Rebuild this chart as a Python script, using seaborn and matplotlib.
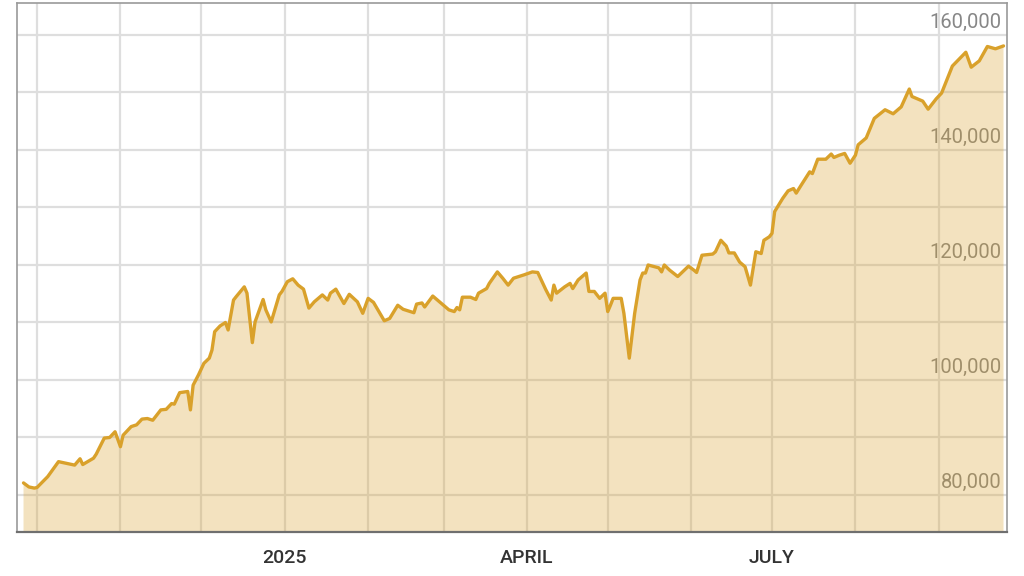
import matplotlib
matplotlib.use("Agg")
import pandas as pd
import matplotlib.pyplot as plt
import seaborn as sns

# Data
dates = [
    "2024-09-26", "2024-09-28", "2024-09-30", "2024-10-01", "2024-10-05", "2024-10-09",
    "2024-10-11", "2024-10-15", "2024-10-17", "2024-10-18", "2024-10-22", "2024-10-23",
    "2024-10-26", "2024-10-28", "2024-10-30", "2024-11-01", "2024-11-02", "2024-11-05",
    "2024-11-07", "2024-11-09", "2024-11-11", "2024-11-13", "2024-11-16", "2024-11-18",
    "2024-11-20", "2024-11-21", "2024-11-23", "2024-11-26", "2024-11-27", "2024-11-28",
    "2024-11-30", "2024-12-02", "2024-12-04", "2024-12-05", "2024-12-06", "2024-12-08",
    "2024-12-10", "2024-12-11", "2024-12-13", "2024-12-14", "2024-12-17", "2024-12-18",
    "2024-12-20", "2024-12-21", "2024-12-24", "2024-12-25", "2024-12-27", "2024-12-30",
    "2024-12-31", "2025-01-02", "2025-01-04", "2025-01-06", "2025-01-08", "2025-01-10",
    "2025-01-12", "2025-01-15", "2025-01-17", "2025-01-18", "2025-01-20", "2025-01-23",
    "2025-01-25", "2025-01-28", "2025-01-30", "2025-02-01", "2025-02-03", "2025-02-07",
    "2025-02-09", "2025-02-12", "2025-02-14", "2025-02-18", "2025-02-19", "2025-02-21",
    "2025-02-22", "2025-02-25", "2025-02-28", "2025-03-03", "2025-03-05", "2025-03-06",
    "2025-03-07", "2025-03-08", "2025-03-11", "2025-03-13", "2025-03-14", "2025-03-17",
    "2025-03-18", "2025-03-21", "2025-03-23", "2025-03-25", "2025-03-27", "2025-03-31",
    "2025-04-03", "2025-04-05", "2025-04-08", "2025-04-10", "2025-04-11", "2025-04-12",
    "2025-04-15", "2025-04-17", "2025-04-18", "2025-04-20", "2025-04-23", "2025-04-24",
    "2025-04-26", "2025-04-28", "2025-04-30", "2025-05-01", "2025-05-02", "2025-05-03",
    "2025-05-06", "2025-05-07", "2025-05-09", "2025-05-11", "2025-05-13", "2025-05-14",
    "2025-05-15", "2025-05-16", "2025-05-20", "2025-05-21", "2025-05-22", "2025-05-24",
    "2025-05-27", "2025-05-31", "2025-06-02", "2025-06-03", "2025-06-05", "2025-06-09",
    "2025-06-10", "2025-06-12", "2025-06-14", "2025-06-15", "2025-06-17", "2025-06-19",
    "2025-06-21", "2025-06-23", "2025-06-25", "2025-06-27", "2025-06-28", "2025-06-30",
    "2025-07-01", "2025-07-02", "2025-07-05", "2025-07-07", "2025-07-09", "2025-07-10",
    "2025-07-12", "2025-07-15", "2025-07-16", "2025-07-18", "2025-07-21", "2025-07-23",
    "2025-07-24", "2025-07-26", "2025-07-28", "2025-07-30", "2025-08-01", "2025-08-02",
    "2025-08-05", "2025-08-08", "2025-08-12", "2025-08-15", "2025-08-18", "2025-08-21",
    "2025-08-22", "2025-08-26", "2025-08-28", "2025-08-31", "2025-09-02", "2025-09-06",
    "2025-09-11", "2025-09-13", "2025-09-16", "2025-09-19", "2025-09-22", "2025-09-25",
]
values = [
    82100, 81400, 81200, 81300, 83200, 85800,
    85600, 85200, 86300, 85300, 86400, 87100,
    89900, 90000, 91000, 88400, 90400, 91900,
    92200, 93200, 93300, 93000, 94800, 94900,
    95900, 95800, 97800, 98000, 94800, 99100,
    100900, 102900, 103800, 105200, 108400, 109400,
    110000, 108700, 113900, 114500, 116200, 115100,
    106500, 110100, 114000, 112200, 110100, 114800,
    115400, 117100, 117600, 116500, 115800, 112500,
    113600, 114800, 113900, 115100, 115800, 113300,
    114900, 113600, 111600, 114200, 113500, 110300,
    110700, 113000, 112300, 111700, 113200, 113400,
    112700, 114600, 113400, 112200, 111900, 112600,
    112200, 114400, 114400, 114000, 115100, 115900,
    116800, 118800, 117700, 116500, 117700, 118300,
    118800, 118700, 115700, 113900, 116500, 115100,
    116200, 116800, 115900, 117400, 118600, 115400,
    115400, 114200, 115100, 111900, 113000, 114200,
    114200, 111600, 103800, 111600, 117400, 118600,
    118600, 120000, 119500, 118800, 120000, 119100,
    118000, 119800, 119100, 118700, 121700, 121900,
    122300, 124300, 123300, 122100, 122100, 120500,
    119700, 116500, 122300, 122000, 124300, 124900,
    125500, 129300, 131600, 132900, 133300, 132500,
    134000, 136200, 135900, 138400, 138400, 139300,
    138700, 139100, 139400, 137700, 139100, 140900,
    142100, 145500, 147000, 146300, 147500, 150600,
    149300, 148500, 147100, 148900, 149900, 154600,
    157000, 154400, 155500, 158000, 157600, 158100,
]

month_ticks = pd.date_range("2024-10-01", "2025-09-01", freq="MS")
month_labels = ["", "", "", "2025", "", "", "APRIL", "", "", "JULY", "", ""]
grid_values = list(range(80000, 160001, 10000))
label_values = [80000, 100000, 120000, 140000, 160000]

LINE = "#d9a12b"

df = pd.DataFrame({"date": pd.to_datetime(dates), "value": values})

sns.set_style("white")
plt.rcParams["font.family"] = ["Roboto", "DejaVu Sans"]

fig, ax = plt.subplots(figsize=(10.24, 5.76), dpi=100)
fig.subplots_adjust(left=17 / 1024, right=1007 / 1024,
                    bottom=1 - 532 / 576, top=1 - 3 / 576)

sns.lineplot(data=df, x="date", y="value", color=LINE, linewidth=2.4,
             ax=ax, zorder=3)
ax.fill_between(df["date"], df["value"], 0, color=LINE, alpha=0.3,
                linewidth=0, zorder=2)

ax.set_xlim(pd.Timestamp("2024-09-23 14:00"), pd.Timestamp("2025-09-26 07:00"))
ax.set_ylim(73565, 165565)

ax.set_xticks(month_ticks)
ax.set_xticklabels(month_labels, fontweight="medium")
ax.set_yticks(grid_values)
ax.tick_params(axis="x", length=0, pad=12, labelsize=14, labelcolor="#333333")
ax.tick_params(axis="y", length=0, labelleft=False)
ax.set_xlabel("")
ax.set_ylabel("")

ax.set_axisbelow(True)
ax.grid(True, color="#dedede", linewidth=1.6)

# y labels sit inside the plot on the right, under the translucent fill
for v in label_values:
    ax.annotate(f"{v:,}", xy=(1, v), xycoords=("axes fraction", "data"),
                xytext=(-4, 5), textcoords="offset points",
                ha="right", va="baseline", fontsize=14.5, color="#878787",
                zorder=1)

for side in ["top", "right", "left"]:
    ax.spines[side].set_color("#9a9a9a")
    ax.spines[side].set_linewidth(1.2)
ax.spines["bottom"].set_color("#6f6f6f")
ax.spines["bottom"].set_linewidth(1.6)

plt.savefig("out.png", dpi=100)
